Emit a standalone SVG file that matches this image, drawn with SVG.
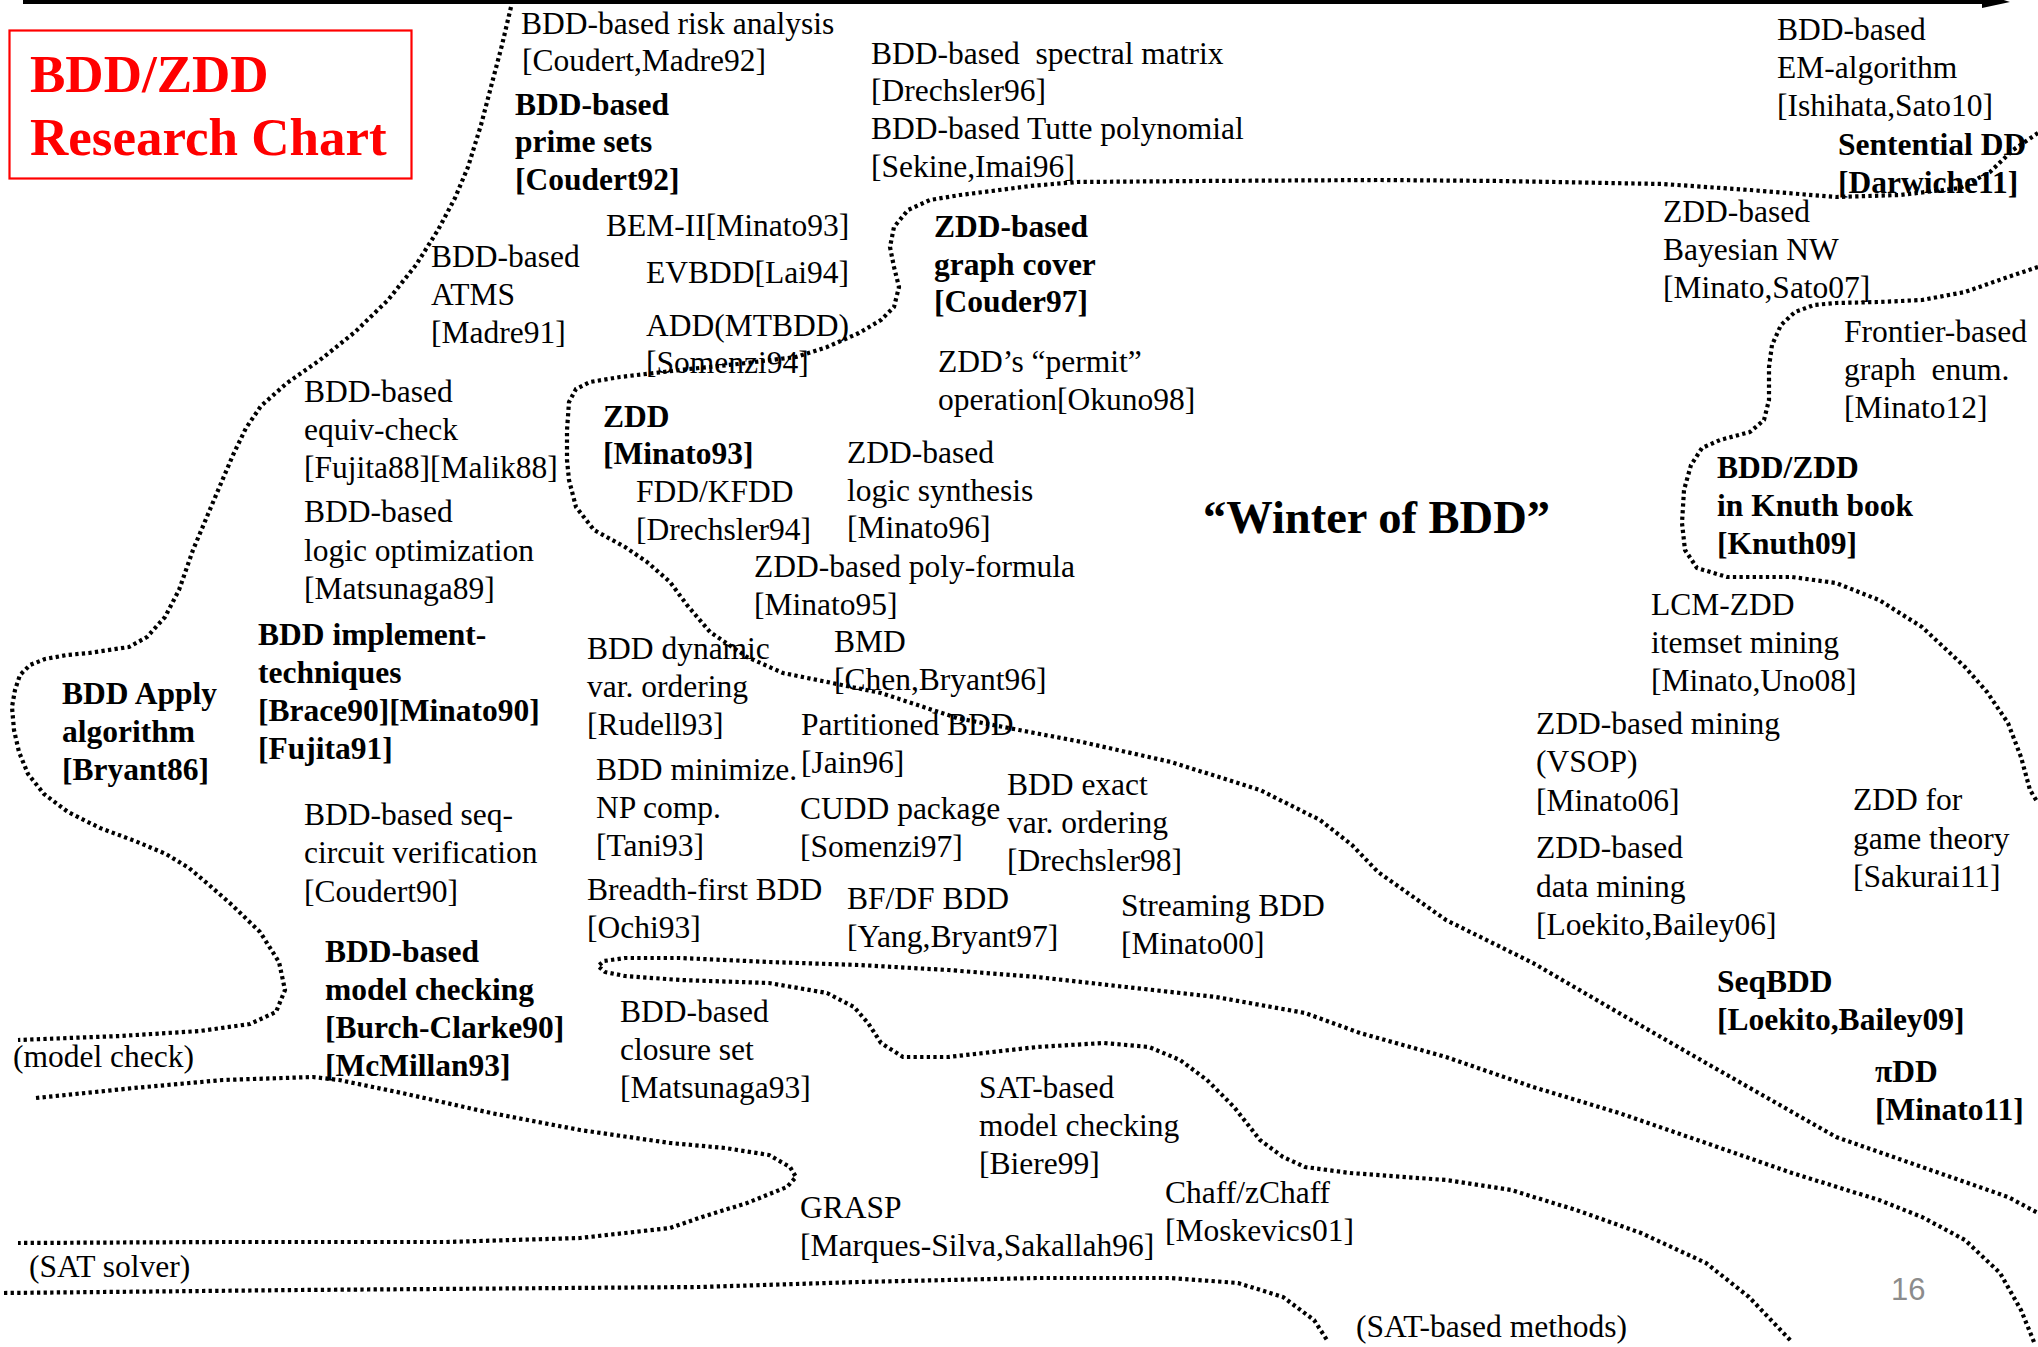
<svg xmlns="http://www.w3.org/2000/svg" width="2038" height="1347" viewBox="0 0 2038 1347">
  <style>
    .t { font-family: "Liberation Serif", "Times New Roman", serif; font-size: 31.5px; fill: #000; }
    .b { font-weight: bold; }
    .dot { fill: none; stroke: #000; stroke-width: 4.2; stroke-dasharray: 3.3 3.3; stroke-linejoin: round; }
  </style>
  <rect width="2038" height="1347" fill="#fff"/>

  <!-- time axis -->
  <g id="axis">
    <line x1="23" y1="2" x2="1986" y2="2" stroke="#000" stroke-width="4"/>
    <polygon points="1982,-7 2010,2 1982,8" fill="#000"/>
  </g>

  <!-- dotted region boundaries -->
  <g id="boundaries">
    <path class="dot" d="M511 7 L502 45 L492 83 L481 125 L468 167 L455 198 L438 230 L416 265 L388 300 L355 332 L320 360 L287 383 L261 406 L246 428 L233 455 L211 507 L193 550 L179 590 L165 617 L147 637 L129 647 L89 653 L67 655 L45 659 L30 665 L20 675 L15 690 L12 707 L14 730 L19 752 L28 774 L44 794 L68 812 L100 828 L135 841 L166 854 L189 868 L208 884 L232 905 L260 932 L279 962 L285 990 L276 1012 L250 1024 L200 1031 L120 1036 L18 1040"/>
    <path class="dot" d="M2038 133 L2013 150 L1990 172 L1960 188 L1900 195 L1836 197 L1750 190 L1663 184 L1500 181 L1380 180 L1200 181 L1077 182 L1030 186 L992 191 L960 195 L930 200 L908 210 L894 227 L890 247 L894 267 L899 287 L894 307 L881 320 L859 333 L827 347 L796 357 L738 364 L680 370 L620 377 L590 382 L576 389 L569 402 L567 430 L567 460 L569 480 L576 507 L594 530 L625 547 L647 562 L670 582 L687 605 L710 632 L747 657 L783 673 L832 683 L881 693 L957 718 L1019 730 L1082 742 L1171 762 L1260 790 L1320 820 L1352 845 L1378 872 L1446 920 L1533 963 L1619 1013 L1706 1063 L1771 1100 L1836 1137 L1922 1167 L2008 1197 L2038 1213"/>
    <path class="dot" d="M2038 267 L2008 277 L1965 292 L1922 300 L1879 302 L1836 303 L1814 305 L1795 312 L1781 325 L1772 345 L1769 367 L1769 400 L1764 420 L1750 432 L1720 440 L1702 448 L1691 465 L1684 490 L1682 523 L1685 550 L1697 568 L1727 577 L1792 577 L1836 583 L1879 600 L1922 627 L1965 667 L1987 692 L2008 723 L2021 757 L2030 790 L2038 803"/>
    <path class="dot" d="M2034 1342 L2021 1310 L2000 1273 L1965 1240 L1922 1217 L1879 1200 L1792 1173 L1706 1143 L1619 1113 L1533 1087 L1446 1057 L1360 1033 L1305 1013 L1216 997 L1126 987 L1037 977 L948 970 L859 965 L769 962 L680 958 L625 958 L604 961 L598 966 L605 972 L625 976 L680 980 L769 983 L827 993 L854 1007 L868 1023 L881 1043 L903 1057 L948 1057 L1037 1047 L1104 1043 L1149 1047 L1180 1060 L1207 1080 L1234 1107 L1260 1140 L1283 1157 L1305 1167 L1350 1173 L1446 1180 L1511 1190 L1576 1210 L1641 1233 L1706 1263 L1749 1297 L1792 1342"/>
    <path class="dot" d="M36 1098 L134 1088 L223 1080 L313 1077 L339 1080 L402 1093 L491 1113 L580 1130 L670 1143 L725 1148 L769 1155 L790 1167 L796 1177 L787 1187 L747 1203 L702 1217 L670 1228 L625 1233 L580 1238 L446 1242 L223 1242 L18 1243"/>
    <path class="dot" d="M4 1293 L300 1290 L700 1287 L859 1282 L1037 1278 L1171 1278 L1238 1283 L1283 1297 L1314 1320 L1327 1340"/>
  </g>

  <!-- title box -->
  <g id="title">
    <rect x="9.5" y="30.5" width="402" height="148" fill="none" stroke="#ff0000" stroke-width="2.2"/>
    <text x="30" y="92" font-family="Liberation Serif, Times New Roman, serif" font-size="53" font-weight="bold" fill="#ff0000">BDD/ZDD</text>
    <text x="30" y="155" font-family="Liberation Serif, Times New Roman, serif" font-size="53" font-weight="bold" fill="#ff0000">Research Chart</text>
  </g>

  <g id="n-risk"><text class="t"><tspan x="521" y="34">BDD-based risk analysis</tspan><tspan x="522" y="71">[Coudert,Madre92]</tspan></text></g>
  <g id="n-prime"><text class="t b"><tspan x="515" y="115">BDD-based</tspan><tspan x="515" y="152">prime sets</tspan><tspan x="515" y="190">[Coudert92]</tspan></text></g>
  <g id="n-spectral"><text class="t"><tspan x="871" y="64">BDD-based &#160;spectral matrix</tspan><tspan x="871" y="101">[Drechsler96]</tspan><tspan x="871" y="139">BDD-based Tutte polynomial</tspan><tspan x="871" y="177">[Sekine,Imai96]</tspan></text></g>
  <g id="n-em"><text class="t"><tspan x="1777" y="40">BDD-based</tspan><tspan x="1777" y="78">EM-algorithm</tspan><tspan x="1777" y="116">[Ishihata,Sato10]</tspan></text></g>
  <g id="n-sdd"><text class="t b"><tspan x="1838" y="155">Sentential DD</tspan><tspan x="1838" y="193">[Darwiche11]</tspan></text></g>
  <g id="n-bem"><text class="t"><tspan x="606" y="236">BEM-II[Minato93]</tspan></text></g>
  <g id="n-atms"><text class="t"><tspan x="431" y="267">BDD-based</tspan><tspan x="431" y="305">ATMS</tspan><tspan x="431" y="343">[Madre91]</tspan></text></g>
  <g id="n-evbdd"><text class="t"><tspan x="646" y="283">EVBDD[Lai94]</tspan></text></g>
  <g id="n-add"><text class="t"><tspan x="646" y="336">ADD(MTBDD)</tspan><tspan x="646" y="373">[Somenzi94]</tspan></text></g>
  <g id="n-zddcover"><text class="t b"><tspan x="934" y="237">ZDD-based</tspan><tspan x="934" y="275">graph cover</tspan><tspan x="934" y="312">[Couder97]</tspan></text></g>
  <g id="n-permit"><text class="t"><tspan x="938" y="372">ZDD’s “permit”</tspan><tspan x="938" y="410">operation[Okuno98]</tspan></text></g>
  <g id="n-equiv"><text class="t"><tspan x="304" y="402">BDD-based</tspan><tspan x="304" y="440">equiv-check</tspan><tspan x="304" y="478">[Fujita88][Malik88]</tspan></text></g>
  <g id="n-zdd"><text class="t b"><tspan x="603" y="427">ZDD</tspan><tspan x="603" y="464">[Minato93]</tspan></text></g>
  <g id="n-fdd"><text class="t"><tspan x="636" y="502">FDD/KFDD</tspan><tspan x="636" y="540">[Drechsler94]</tspan></text></g>
  <g id="n-zddlogic"><text class="t"><tspan x="847" y="463">ZDD-based</tspan><tspan x="847" y="501">logic synthesis</tspan><tspan x="847" y="538">[Minato96]</tspan></text></g>
  <g id="n-logicopt"><text class="t"><tspan x="304" y="522">BDD-based</tspan><tspan x="304" y="561">logic optimization</tspan><tspan x="304" y="599">[Matsunaga89]</tspan></text></g>
  <g id="n-polyf"><text class="t"><tspan x="754" y="577">ZDD-based poly-formula</tspan><tspan x="754" y="615">[Minato95]</tspan></text></g>
  <g id="n-winter"><text x="1203" y="533" font-family="Liberation Serif, Times New Roman, serif" font-size="46.5" font-weight="bold" fill="#000">“Winter of BDD”</text></g>
  <g id="n-frontier"><text class="t"><tspan x="1844" y="342">Frontier-based</tspan><tspan x="1844" y="380">graph &#160;enum.</tspan><tspan x="1844" y="418">[Minato12]</tspan></text></g>
  <g id="n-knuth"><text class="t b"><tspan x="1717" y="478">BDD/ZDD</tspan><tspan x="1717" y="516">in Knuth book</tspan><tspan x="1717" y="554">[Knuth09]</tspan></text></g>
  <g id="n-bayes"><text class="t"><tspan x="1663" y="222">ZDD-based</tspan><tspan x="1663" y="260">Bayesian NW</tspan><tspan x="1663" y="298">[Minato,Sato07]</tspan></text></g>
  <g id="n-lcm"><text class="t"><tspan x="1651" y="615">LCM-ZDD</tspan><tspan x="1651" y="653">itemset mining</tspan><tspan x="1651" y="691">[Minato,Uno08]</tspan></text></g>
  <g id="n-impl"><text class="t b"><tspan x="258" y="645">BDD implement-</tspan><tspan x="258" y="683">techniques</tspan><tspan x="258" y="721">[Brace90][Minato90]</tspan><tspan x="258" y="759">[Fujita91]</tspan></text></g>
  <g id="n-apply"><text class="t b"><tspan x="62" y="704">BDD Apply</tspan><tspan x="62" y="742">algorithm</tspan><tspan x="62" y="780">[Bryant86]</tspan></text></g>
  <g id="n-dynord"><text class="t"><tspan x="587" y="659">BDD dynamic</tspan><tspan x="587" y="697">var. ordering</tspan><tspan x="587" y="735">[Rudell93]</tspan></text></g>
  <g id="n-bmd"><text class="t"><tspan x="834" y="652">BMD</tspan><tspan x="834" y="690">[Chen,Bryant96]</tspan></text></g>
  <g id="n-pbdd"><text class="t"><tspan x="801" y="735">Partitioned BDD</tspan><tspan x="801" y="773">[Jain96]</tspan></text></g>
  <g id="n-minimize"><text class="t"><tspan x="596" y="780">BDD minimize.</tspan><tspan x="596" y="818">NP comp.</tspan><tspan x="596" y="856">[Tani93]</tspan></text></g>
  <g id="n-cudd"><text class="t"><tspan x="800" y="819">CUDD package</tspan><tspan x="800" y="857">[Somenzi97]</tspan></text></g>
  <g id="n-exact"><text class="t"><tspan x="1007" y="795">BDD exact</tspan><tspan x="1007" y="833">var. ordering</tspan><tspan x="1007" y="871">[Drechsler98]</tspan></text></g>
  <g id="n-seqckt"><text class="t"><tspan x="304" y="825">BDD-based seq-</tspan><tspan x="304" y="863">circuit verification</tspan><tspan x="304" y="902">[Coudert90]</tspan></text></g>
  <g id="n-breadth"><text class="t"><tspan x="587" y="900">Breadth-first BDD</tspan><tspan x="587" y="938">[Ochi93]</tspan></text></g>
  <g id="n-bfdf"><text class="t"><tspan x="847" y="909">BF/DF BDD</tspan><tspan x="847" y="947">[Yang,Bryant97]</tspan></text></g>
  <g id="n-stream"><text class="t"><tspan x="1121" y="916">Streaming BDD</tspan><tspan x="1121" y="954">[Minato00]</tspan></text></g>
  <g id="n-vsop"><text class="t"><tspan x="1536" y="734">ZDD-based mining</tspan><tspan x="1536" y="772">(VSOP)</tspan><tspan x="1536" y="811">[Minato06]</tspan></text></g>
  <g id="n-game"><text class="t"><tspan x="1853" y="810">ZDD for</tspan><tspan x="1853" y="849">game theory</tspan><tspan x="1853" y="887">[Sakurai11]</tspan></text></g>
  <g id="n-datamining"><text class="t"><tspan x="1536" y="858">ZDD-based</tspan><tspan x="1536" y="897">data mining</tspan><tspan x="1536" y="935">[Loekito,Bailey06]</tspan></text></g>
  <g id="n-seqbdd"><text class="t b"><tspan x="1717" y="992">SeqBDD</tspan><tspan x="1717" y="1030">[Loekito,Bailey09]</tspan></text></g>
  <g id="n-pidd"><text class="t b"><tspan x="1875" y="1082">πDD</tspan><tspan x="1875" y="1120">[Minato11]</tspan></text></g>
  <g id="n-modelchk"><text class="t b"><tspan x="325" y="962">BDD-based</tspan><tspan x="325" y="1000">model checking</tspan><tspan x="325" y="1038">[Burch-Clarke90]</tspan><tspan x="325" y="1076">[McMillan93]</tspan></text></g>
  <g id="n-closure"><text class="t"><tspan x="620" y="1022">BDD-based</tspan><tspan x="620" y="1060">closure set</tspan><tspan x="620" y="1098">[Matsunaga93]</tspan></text></g>
  <g id="n-satmc"><text class="t"><tspan x="979" y="1098">SAT-based</tspan><tspan x="979" y="1136">model checking</tspan><tspan x="979" y="1174">[Biere99]</tspan></text></g>
  <g id="n-grasp"><text class="t"><tspan x="800" y="1218">GRASP</tspan><tspan x="800" y="1256">[Marques-Silva,Sakallah96]</tspan></text></g>
  <g id="n-chaff"><text class="t"><tspan x="1165" y="1203">Chaff/zChaff</tspan><tspan x="1165" y="1241">[Moskevics01]</tspan></text></g>

  <!-- area labels -->
  <g id="area-labels">
    <text class="t" x="13" y="1067">(model check)</text>
    <text class="t" x="29" y="1277">(SAT solver)</text>
    <text class="t" x="1356" y="1337">(SAT-based methods)</text>
  </g>

  <g id="page-number"><text x="1891" y="1300" font-family="Liberation Sans, Arial, sans-serif" font-size="31" fill="#8c8c8c">16</text></g>
</svg>
